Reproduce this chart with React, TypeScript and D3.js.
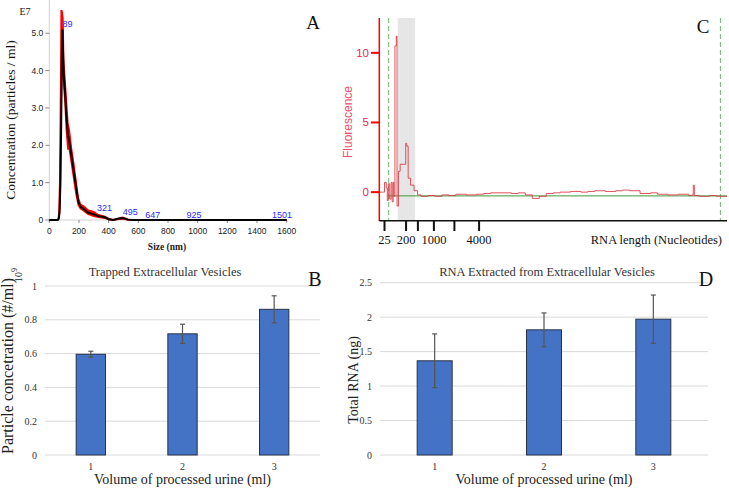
import React from "react";
import * as d3 from "d3";

// ---------- Panel A: NTA size distribution ----------
const sizeNm = [0, 50, 60, 65, 70, 75, 80, 85, 89, 92, 97, 105, 115, 125, 135, 150, 165, 180, 195, 210, 230, 260, 300, 330, 370, 400, 430, 470, 495, 530, 560, 1600];
const concMean = [0, 0, 0.01, 0.05, 0.3, 1.0, 2.5, 4.5, 5.1, 4.6, 3.9, 3.5, 2.8, 2.3, 2.1, 1.7, 1.3, 0.9, 0.5, 0.35, 0.3, 0.2, 0.15, 0.1, 0.08, 0.02, 0, 0.04, 0.05, 0.01, 0, 0];
const concHi = [0, 0, 0.03, 0.2, 1.0, 3.0, 5.6, 5.6, 5.5, 5.4, 4.3, 3.8, 3.2, 2.6, 2.4, 1.9, 1.5, 1.05, 0.6, 0.42, 0.38, 0.27, 0.22, 0.14, 0.1, 0.04, 0.01, 0.05, 0.07, 0.02, 0, 0];
const concLo = [0, 0, 0.01, 0.05, 0.2, 1.2, 3.0, 4.2, 4.6, 4.0, 3.6, 3.2, 2.4, 1.9, 1.9, 1.5, 1.1, 0.7, 0.4, 0.3, 0.25, 0.16, 0.1, 0.07, 0.05, 0.01, 0, 0.02, 0.03, 0, 0, 0];
const peakSizes = [89, 321, 495, 647, 925, 1501];
const peakVals = [5.12, 0.19, 0.08, 0, 0, 0];
const aYTicks = [0, 1, 2, 3, 4, 5];
const aXTicks = [0, 200, 400, 600, 800, 1000, 1200, 1400, 1600];

// ---------- Panel C: electropherogram ----------
const migT = [0, 1.0, 1.5, 2.0, 2.3, 2.6, 3.0, 3.4, 3.7, 4.0, 4.2, 4.5, 4.9, 5.1, 5.5, 6.0, 7.0, 7.6, 7.9, 8.3, 9.0, 10.0, 11.0, 12, 14, 16, 18, 20, 22, 25, 28, 30, 32, 35, 38, 40, 42, 44, 46, 48, 50, 52, 55, 58, 60, 62, 65, 68, 70, 72, 75, 78, 80, 83, 86, 89, 90.0, 90.3, 90.6, 92, 95, 97, 100];
const fluor = [0, 0, 0.7, 0.3, -0.6, 0.6, -0.5, 0.7, -0.7, 0.7, -0.3, 10.5, 11.2, -1.0, 1.5, 2.0, 2.0, 3.5, 3.3, 1.0, 0.5, 0.1, -0.2, -0.3, -0.25, -0.3, -0.2, -0.25, -0.15, -0.2, -0.15, -0.1, -0.05, -0.05, -0.1, -0.05, -0.2, -0.45, -0.3, -0.1, -0.05, 0, 0.05, 0.0, 0.05, 0.1, 0.05, 0.1, 0.15, 0.1, -0.1, -0.05, -0.15, -0.2, -0.15, -0.25, -0.2, 0.5, -0.25, -0.3, -0.25, -0.3, -0.3];
const baselineLevel = -0.27;
const cYTicks = [0, 5, 10];
const ladderPos = [1.5, 7.7, 11.1, 15.7, 21.6, 28.7];
const ladderLabels = ["25", "200", "", "1000", "", "4000"];
const markerPos = [2.7, 98.1];
const bandRange = [5.3, 10.3];

// ---------- Panel B ----------
const volumes = ["1", "2", "3"];
const evConc = [0.596, 0.717, 0.862];
const evErr = [0.018, 0.057, 0.08];
const bYTicks = [0, 0.2, 0.4, 0.6, 0.8, 1];

// ---------- Panel D ----------
const rnaTotal = [1.367, 1.816, 1.971];
const rnaErr = [0.39, 0.245, 0.35];
const dYTicks = [0, 0.5, 1, 1.5, 2, 2.5];

const SERIF = "'Liberation Serif', 'Times New Roman', serif";
const SANS = "'Liberation Sans', Arial, sans-serif";

function PanelA() {
  const x = d3.scaleLinear().domain([0, 1600]).range([49.3, 286.7]);
  const y = d3.scaleLinear().domain([0, 5.89]).range([220, 0]);
  const idx = d3.range(sizeNm.length);
  const area = d3.area<number>().x((i) => x(sizeNm[i])).y0((i) => y(concLo[i])).y1((i) => y(concHi[i]));
  const hiLine = d3.line<number>().x((i) => x(sizeNm[i])).y((i) => y(concHi[i]));
  const loLine = d3.line<number>().x((i) => x(sizeNm[i])).y((i) => y(concLo[i]));
  const mean = d3.line<number>().x((i) => x(sizeNm[i])).y((i) => y(concMean[i]));
  return (
    <g>
      <line x1={x(0)} x2={x(0)} y1={0} y2={220} stroke="#d0d0d0" strokeWidth={1} />
      <line x1={x(0)} x2={x(1600)} y1={220} y2={220} stroke="#d0d0d0" strokeWidth={1} />
      {aYTicks.map((t) => (
        <g key={t}>
          <line x1={x(0) - 4} x2={x(0)} y1={y(t)} y2={y(t)} stroke="#888" />
          <text x={x(0) - 6} y={y(t) + 3} textAnchor="end" fontFamily={SANS} fontSize={8.5} fill="#222">
            {t === 0 ? "0" : d3.format(".1f")(t)}
          </text>
        </g>
      ))}
      {aXTicks.map((t) => (
        <g key={t}>
          <line x1={x(t)} x2={x(t)} y1={220} y2={223} stroke="#888" />
          <text x={x(t)} y={234} textAnchor="middle" fontFamily={SANS} fontSize={8.5} fill="#222">
            {t}
          </text>
        </g>
      ))}
      <path d={area(idx) || ""} fill="#ff0000" />
      <path d={hiLine(idx) || ""} fill="none" stroke="#ff0000" strokeWidth={1.5} />
      <path d={loLine(idx) || ""} fill="none" stroke="#ff0000" strokeWidth={1.5} />
      <path d={mean(idx) || ""} fill="none" stroke="#000" strokeWidth={2} />
      {peakSizes.map((p, i) => (
        <text key={p} x={x(p)} y={y(peakVals[i]) - 2} fontFamily={SANS} fontSize={9} fill="#2b2bff">
          {p}
        </text>
      ))}
      <text x={25} y={15} textAnchor="middle" fontFamily={SERIF} fontSize={10} fill="#222">E7</text>
      <text transform="translate(15,120) rotate(-90)" textAnchor="middle" fontFamily={SERIF} fontSize={13.5} fill="#111">
        Concentration (particles / ml)
      </text>
      <text x={167} y={250} textAnchor="middle" fontFamily={SERIF} fontSize={9.5} fontWeight="bold" fill="#222">
        Size (nm)
      </text>
      <text x={313} y={29} textAnchor="middle" fontFamily={SERIF} fontSize={19} fill="#111">A</text>
    </g>
  );
}

function PanelC() {
  const x = d3.scaleLinear().domain([0, 100]).range([379.3, 727]);
  const y = d3.scaleLinear().domain([-2, 12.5]).range([220, 18]);
  const idx = d3.range(migT.length);
  const trace = d3.line<number>().x((i) => x(migT[i])).y((i) => y(fluor[i])).curve(d3.curveStepAfter);
  return (
    <g>
      <rect x={x(bandRange[0])} y={18} width={x(bandRange[1]) - x(bandRange[0])} height={202} fill="#e6e6e6" />
      {markerPos.map((m) => (
        <line key={m} x1={x(m)} x2={x(m)} y1={18} y2={220} stroke="#6dbb6d" strokeWidth={1} strokeDasharray="5,3" />
      ))}
      <line x1={x(markerPos[0])} x2={x(100)} y1={y(baselineLevel)} y2={y(baselineLevel)} stroke="#3c9a3c" strokeWidth={1} />
      <path d={trace(idx) || ""} fill="none" stroke="#d9363e" strokeWidth={1} strokeOpacity={0.85} />
      <line x1={379.3} x2={379.3} y1={18} y2={221} stroke="#ff0000" strokeWidth={1.5} />
      {cYTicks.map((t) => (
        <g key={t}>
          <line x1={371} x2={379.3} y1={y(t)} y2={y(t)} stroke="#ff0000" strokeWidth={2} />
          <text x={369} y={y(t) + 4} textAnchor="end" fontFamily={SANS} fontSize={11.5} fill="#f0284a">
            {t}
          </text>
        </g>
      ))}
      <line x1={379.3} x2={727} y1={220.7} y2={220.7} stroke="#111" strokeWidth={1.5} />
      {ladderPos.map((p, i) => (
        <g key={p}>
          <line x1={x(p)} x2={x(p)} y1={220.7} y2={231} stroke="#111" strokeWidth={2} />
          {ladderLabels[i] && (
            <text x={x(p)} y={244} textAnchor="middle" fontFamily={SERIF} fontSize={12.5} fill="#111">
              {ladderLabels[i]}
            </text>
          )}
        </g>
      ))}
      <text x={722} y={244} textAnchor="end" fontFamily={SERIF} fontSize={12.5} fill="#111">RNA length (Nucleotides)</text>
      <text transform="translate(352,122) rotate(-90)" textAnchor="middle" fontFamily={SANS} fontSize={12} fill="#f2506a">
        Fluorescence
      </text>
      <text x={703} y={33} textAnchor="middle" fontFamily={SERIF} fontSize={19} fill="#111">C</text>
    </g>
  );
}

function BarPanel(props: {
  values: number[];
  errs: number[];
  ticks: number[];
  x0: number;
  x1: number;
  y0: number;
  yTop: number;
  max: number;
  title: string;
  titleX: number;
  letter: string;
  letterX: number;
  tickFmt: (v: number) => string;
}) {
  const { values, errs, ticks, x0, x1, y0, yTop, max, title, titleX, letter, letterX, tickFmt } = props;
  const x = d3.scaleBand<string>().domain(volumes).range([x0, x1]).paddingInner(0.68).paddingOuter(0.34);
  const y = d3.scaleLinear().domain([0, max]).range([y0, yTop]);
  const bw = x.bandwidth();
  return (
    <g>
      {ticks.map((t) => (
        <g key={t}>
          <line x1={x0} x2={x1} y1={y(t)} y2={y(t)} stroke="#d9d9d9" strokeWidth={1} />
          <text x={x0 - 8} y={y(t) + 3.5} textAnchor="end" fontFamily={SERIF} fontSize={10} fill="#333">
            {tickFmt(t)}
          </text>
        </g>
      ))}
      {volumes.map((v, i) => (
        <g key={v}>
          <rect x={x(v)} y={y(values[i])} width={bw} height={y0 - y(values[i])} fill="#4472c4" stroke="#27324a" strokeWidth={1} />
          <line x1={x(v)! + bw / 2} x2={x(v)! + bw / 2} y1={y(values[i] + errs[i])} y2={y(values[i] - errs[i])} stroke="#555" strokeWidth={1.2} />
          <line x1={x(v)! + bw / 2 - 2.5} x2={x(v)! + bw / 2 + 2.5} y1={y(values[i] + errs[i])} y2={y(values[i] + errs[i])} stroke="#555" strokeWidth={1.2} />
          <line x1={x(v)! + bw / 2 - 2.5} x2={x(v)! + bw / 2 + 2.5} y1={y(values[i] - errs[i])} y2={y(values[i] - errs[i])} stroke="#555" strokeWidth={1.2} />
          <text x={x(v)! + bw / 2} y={470} textAnchor="middle" fontFamily={SERIF} fontSize={10} fill="#333">
            {v}
          </text>
        </g>
      ))}
      <text x={titleX} y={276} textAnchor="middle" fontFamily={SERIF} fontSize={12.5} fill="#333">{title}</text>
      <text x={letterX} y={286} textAnchor="middle" fontFamily={SERIF} fontSize={20} fill="#111">{letter}</text>
      <text x={(x0 + x1) / 2} y={484} textAnchor="middle" fontFamily={SERIF} fontSize={14} fill="#222">
        Volume of processed urine (ml)
      </text>
    </g>
  );
}

export default function App() {
  return (
    <div style={{ position: "absolute", left: 0, top: 0 }}>
      <svg width={729} height={489} style={{ display: "block", background: "#fff" }}>
        <PanelA />
        <PanelC />
        <BarPanel
          values={evConc}
          errs={evErr}
          ticks={bYTicks}
          x0={45}
          x1={320}
          y0={455}
          yTop={286}
          max={1}
          title="Trapped Extracellular Vesicles"
          titleX={165}
          letter="B"
          letterX={315}
          tickFmt={(v) => (v === 0 || v === 1 ? String(v) : d3.format(".1f")(v))}
        />
        <text transform="translate(13,366) rotate(-90)" textAnchor="middle" fontFamily={SERIF} fontSize={16} fill="#222">
          Particle concetration (#/ml)
        </text>
        <text transform="translate(22,275) rotate(-90)" textAnchor="middle" fontFamily={SERIF} fontSize={10} fill="#222">
          10<tspan dy={-5} fontSize={8}>9</tspan>
        </text>
        <BarPanel
          values={rnaTotal}
          errs={rnaErr}
          ticks={dYTicks}
          x0={380}
          x1={708}
          y0={455}
          yTop={282.7}
          max={2.5}
          title="RNA Extracted from Extracellular Vesicles"
          titleX={547}
          letter="D"
          letterX={706}
          tickFmt={(v) => String(v)}
        />
        <text transform="translate(358,380) rotate(-90)" textAnchor="middle" fontFamily={SERIF} fontSize={14} fill="#222">
          Total RNA (ng)
        </text>
      </svg>
    </div>
  );
}
